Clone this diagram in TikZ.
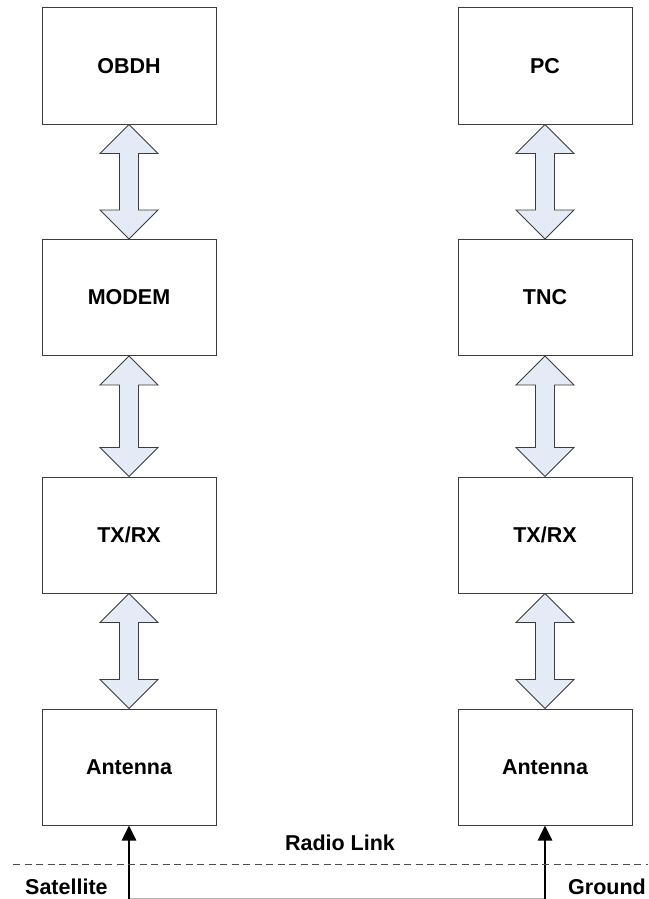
\documentclass[tikz,border=0pt]{standalone}
\usepackage{fontspec}
\setmainfont{Liberation Sans}
\usetikzlibrary{calc,arrows.meta}

\definecolor{boxline}{HTML}{3C3C3C}
\definecolor{pipefill}{HTML}{E4EBF6}
\definecolor{linkgray}{HTML}{B4B4B4}

\tikzset{
  unit/.style={draw=boxline, line width=1pt, fill=white,
    minimum width=174pt, minimum height=116pt,
    font=\fontsize{21.5}{26}\selectfont\bfseries},
  pipe/.style={draw=boxline, line width=0.9pt, fill=pipefill, line join=miter},
  radio/.style={line width=2.6pt, -{Triangle[length=15pt,width=14pt]}},
  linkline/.style={draw=linkgray, line width=1pt},
  boundary/.style={draw=black!70, line width=1pt, dash pattern=on 7pt off 4.5pt},
  caption/.style={font=\fontsize{21.5}{26}\selectfont\bfseries, inner sep=0pt}
}

% two-headed block arrow between the bottom of #1 and the top of #2
\newcommand\dataflow[2]{%
  \path[pipe] let \p1=(#1.south), \p2=(#2.north) in
    (\x1,\y1) -- (\x1+29pt,\y1-29pt) -- (\x1+9.5pt,\y1-29pt)
    -- (\x1+9.5pt,\y2+29pt) -- (\x1+29pt,\y2+29pt) -- (\x2,\y2)
    -- (\x1-29pt,\y2+29pt) -- (\x1-9.5pt,\y2+29pt)
    -- (\x1-9.5pt,\y1-29pt) -- (\x1-29pt,\y1-29pt) -- cycle;}

\begin{document}
\begin{tikzpicture}[x=1pt,y=-1pt]
  \useasboundingbox (0,0) rectangle (648,899);

  % satellite side
  \node[unit] (obdh)  at (129,66)    {OBDH};
  \node[unit] (modem) at (129,297.5) {MODEM};
  \node[unit] (txrxS) at (129,535)   {TX/RX};
  \node[unit] (antS)  at (129,767)   {Antenna};

  % ground side
  \node[unit] (pc)    at (545,66)    {PC};
  \node[unit] (tnc)   at (545,297.5) {TNC};
  \node[unit] (txrxG) at (545,535)   {TX/RX};
  \node[unit] (antG)  at (545,767)   {Antenna};

  \dataflow{obdh}{modem}
  \dataflow{modem}{txrxS}
  \dataflow{txrxS}{antS}
  \dataflow{pc}{tnc}
  \dataflow{tnc}{txrxG}
  \dataflow{txrxG}{antG}

  % radio link between the two antennas
  \coordinate (feedS) at (129,898.5);
  \coordinate (feedG) at (545,898.5);
  \draw[linkline] (feedS) -- (feedG);
  \draw[radio] (feedS) -- (antS.south);
  \draw[radio] (feedG) -- (antG.south);

  % satellite / ground boundary
  \coordinate (edgeL) at (13,864);
  \coordinate (edgeR) at (648,864);
  \draw[boundary] (edgeL) -- (edgeR);

  \node[caption] (link) at (340,843) {Radio Link};
  \node[caption, anchor=west] (sat) at (25,887) {Satellite};
  \node[caption, anchor=west] (gnd) at (568,887) {Ground};
\end{tikzpicture}
\end{document}
